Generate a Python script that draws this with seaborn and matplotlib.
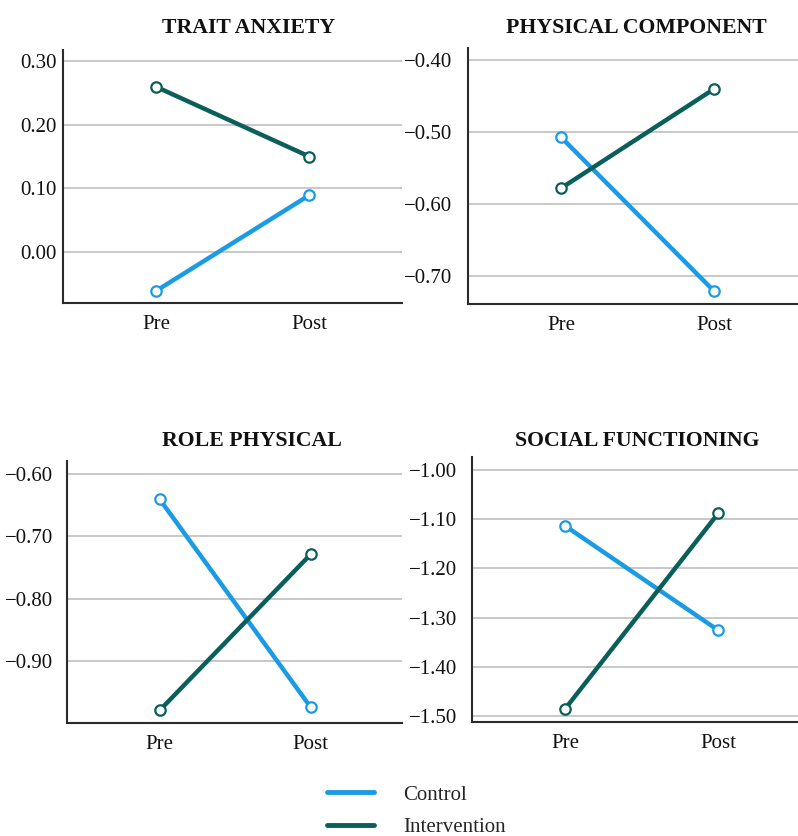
import matplotlib
matplotlib.use("Agg")
import matplotlib.pyplot as plt
from matplotlib.lines import Line2D
import seaborn as sns
import pandas as pd

sns.set_theme(style="white")
plt.rcParams["font.family"] = ["Liberation Serif", "DejaVu Serif"]

# Estimated marginal means at each time point
times = ["Pre", "Post"]
groups = ["Control", "Intervention"]
titles = ["TRAIT ANXIETY", "PHYSICAL COMPONENT", "ROLE PHYSICAL", "SOCIAL FUNCTIONING"]

trait_control = [-0.062, 0.089]
trait_intervention = [0.260, 0.150]
physical_control = [-0.507, -0.721]
physical_intervention = [-0.578, -0.440]
role_control = [-0.641, -0.974]
role_intervention = [-0.979, -0.729]
social_control = [-1.114, -1.326]
social_intervention = [-1.485, -1.088]

yticks_trait = [0.00, 0.10, 0.20, 0.30]
yticks_physical = [-0.70, -0.60, -0.50, -0.40]
yticks_role = [-0.90, -0.80, -0.70, -0.60]
yticks_social = [-1.50, -1.40, -1.30, -1.20, -1.10, -1.00]

series = [
    (trait_control, trait_intervention, yticks_trait),
    (physical_control, physical_intervention, yticks_physical),
    (role_control, role_intervention, yticks_role),
    (social_control, social_intervention, yticks_social),
]

palette = {"Control": "#1a9be3", "Intervention": "#0a5f5a"}

W, H = 798, 836
fig = plt.figure(figsize=(W / 100, H / 100), dpi=100)

# axes boxes in pixels: left, top, right, bottom
boxes = [(63, 50, 402, 303), (468, 48, 798, 304),
         (67, 461, 402, 723), (472, 457, 798, 722)]
ylims = [(-0.081, 0.318), (-0.739, -0.383), (-0.999, -0.58), (-1.512, -0.974)]
xlims = [(-0.607, 1.605), (-0.608, 1.549), (-0.612, 1.603), (-0.609, 1.52)]
label_pads = [6, 16, 13.5, 15]
title_pos = [(249, 33), (636, 33), (252, 446), (637, 446)]

FS = 15

for i, ((ctrl, intv, yt), (l, t, r, b)) in enumerate(zip(series, boxes)):
    ax = fig.add_axes([l / W, 1 - b / H, (r - l) / W, (b - t) / H])
    df = pd.DataFrame({
        "time": times + times,
        "value": list(ctrl) + list(intv),
        "group": [groups[0]] * 2 + [groups[1]] * 2,
    })
    ax.set_yticks(yt)
    for y in yt:
        ax.axhline(y, color="#c4c4c4", lw=1.3, zorder=0)
    sns.lineplot(data=df, x="time", y="value", hue="group", palette=palette,
                 sort=False, lw=3.2, marker="o", markersize=7.5,
                 markerfacecolor="white", markeredgewidth=1.6,
                 legend=False, ax=ax, zorder=3)
    # marker edges follow line colours
    for line in ax.get_lines()[-2:]:
        line.set_markeredgecolor(line.get_color())
    ax.set_xlim(*xlims[i])
    ax.set_ylim(*ylims[i])
    ax.set_yticklabels([f"{v:.2f}".replace("-", "\u2212") for v in yt])
    ax.set_xlabel("")
    ax.set_ylabel("")
    ax.grid(False)
    for s in ["top", "right"]:
        ax.spines[s].set_visible(False)
    for s in ["left", "bottom"]:
        ax.spines[s].set_color("#2b2b2b")
        ax.spines[s].set_linewidth(1.5)
    ax.tick_params(axis="y", length=0, labelsize=FS, pad=label_pads[i] * 0.72,
                   labelcolor="#111111")
    ax.tick_params(axis="x", length=0, labelsize=FS, pad=8.5, labelcolor="#111111")
    ax.patch.set_alpha(0)
    tx, ty = title_pos[i]
    fig.text(tx / W, 1 - ty / H, titles[i], ha="center", va="baseline",
             fontsize=15.7, fontweight="bold", color="#111111")

handles = [Line2D([0], [0], color=palette[g], lw=3.5) for g in groups]
fig.legend(handles, groups, loc="center left",
           bbox_to_anchor=(327 / W, 1 - 811 / H), borderpad=0, borderaxespad=0,
           frameon=False, fontsize=FS, handlelength=2.25, handletextpad=1.4,
           labelspacing=0.6)

fig.savefig("out.png", dpi=100)
